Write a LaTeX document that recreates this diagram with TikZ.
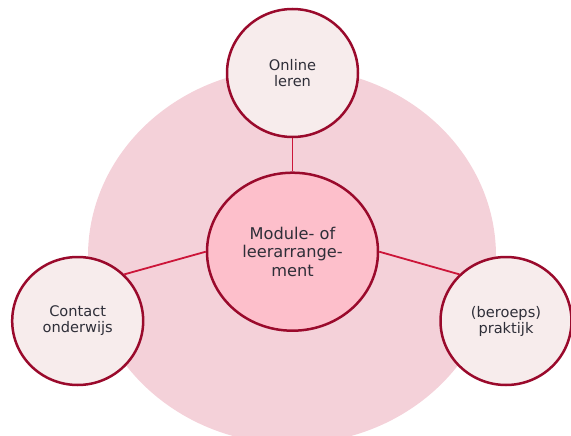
\documentclass[tikz,border=0pt]{standalone}
\usepackage{fontspec}
\setmainfont{DejaVu Sans}
\usetikzlibrary{shapes.geometric}
\definecolor{bigpink}{HTML}{F4D1D9}
\definecolor{midpink}{HTML}{FDBFCB}
\definecolor{lightpink}{HTML}{F7ECEC}
\definecolor{darkred}{HTML}{9A0A2C}
\definecolor{linkred}{HTML}{CC1539}
\definecolor{txt}{HTML}{2E2E38}
\tikzset{
  outer/.style={ellipse, draw=darkred, line width=2.5pt, fill=lightpink, inner sep=0pt,
    minimum width=131pt, minimum height=128pt, align=center, text=txt,
    font=\fontsize{14.6pt}{16pt}\selectfont},
  centre/.style={ellipse, draw=darkred, line width=2.5pt, fill=midpink, inner sep=0pt,
    minimum width=171pt, minimum height=158pt, align=center, text=txt,
    font=\fontsize{16.2pt}{18.5pt}\selectfont},
  link/.style={draw=linkred, line width=1.8pt}
}
\begin{document}
\begin{tikzpicture}[x=1pt,y=-1pt]
\useasboundingbox (0,0) rectangle (571,436);
\fill[bigpink] (292,256) ellipse [x radius=204, y radius=188];
\node[centre] (m) at (292.5,251.7) {Module- of\\leerarrange-\\ment};
\node[outer] (o) at (292.5,73) {Online\\leren};
\node[outer] (c) at (77.7,321) {Contact\\onderwijs};
\node[outer] (p) at (506,321) {(beroeps)\\praktijk};
\draw[link] (o.south) -- (m.north);
\draw[link] (m.west) -- (c.45);
\draw[link] (m.east) -- (p.135);
\end{tikzpicture}
\end{document}
